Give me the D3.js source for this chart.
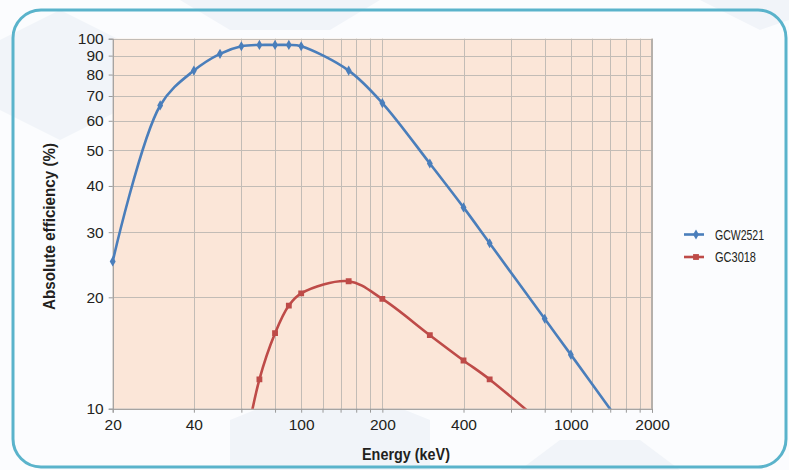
<!DOCTYPE html>
<html>
<head>
<meta charset="utf-8">
<script src="https://cdn.jsdelivr.net/npm/d3@7.9.0/dist/d3.min.js"></script>
<style>
  html, body { margin: 0; padding: 0; background: #fbfcfe; }
  svg { display: block; }
  text { font-family: "Liberation Sans", Arial, sans-serif; fill: #231f20; }
</style>
</head>
<body>
<svg id="chart" width="789" height="470"></svg>
<script>
// data
const energyBlue = [20, 30, 40, 50, 60, 70, 80, 90, 100, 150, 200, 300, 400, 500, 800, 1000, 1500];
const effBlue = [25, 66, 82, 91, 95.4, 96.2, 96.2, 96.2, 95.4, 82, 67, 46, 35, 28, 17.5, 14, 9.3];
const energyRed = [60, 70, 80, 90, 100, 150, 200, 300, 400, 500, 800];
const effRed = [7, 12, 16, 19, 20.5, 22.1, 19.8, 15.8, 13.5, 12, 9];

const xGrid = [20, 40, 60, 80, 100, 120, 140, 160, 180, 200, 400, 600, 800, 1000, 1200, 1400, 1600, 1800, 2000];
const xLabels = [20, 40, 100, 200, 400, 1000, 2000];
const yGrid = [10, 20, 30, 40, 50, 60, 70, 80, 90, 100];

const series = [
  { name: 'GCW2521', color: '#4a7ebb', marker: 'diamond', x: energyBlue, y: effBlue, w: 49 },
  { name: 'GC3018', color: '#be4b48', marker: 'square', x: energyRed, y: effRed, w: 41 }
];

const svg = d3.select('#chart');

// background: faint hexagon shapes and the rounded frame
const bg = svg.append('g');
bg.append('rect').attr('width', 789).attr('height', 470).attr('fill', '#fbfcfe');
const hexes = [
  [[0, 40], [60, 10], [120, 40], [120, 110], [60, 140], [0, 110]],
  [[230, 420], [330, 380], [430, 420], [430, 470], [230, 470]],
  [[520, 470], [560, 440], [640, 440], [680, 470]],
  [[180, 0], [230, 30], [330, 30], [380, 0]],
  [[700, 0], [760, 30], [789, 20], [789, 0]]
];
hexes.forEach(p => {
  bg.append('polygon').attr('points', p.map(d => d.join(',')).join(' ')).attr('fill', '#f1f4f9');
});
svg.append('rect')
  .attr('x', 13).attr('y', 10).attr('width', 773).attr('height', 457)
  .attr('rx', 28).attr('ry', 28)
  .attr('fill', 'none').attr('stroke', '#5ab3cb').attr('stroke-width', 3);

const x = d3.scaleLog().domain([20, 2000]).range([112.7, 652]);
const y = d3.scaleLog().domain([10, 100]).range([408.7, 38.7]);

// plot area
svg.append('rect')
  .attr('x', x(20)).attr('y', y(100))
  .attr('width', x(2000) - x(20)).attr('height', y(10) - y(100))
  .attr('fill', '#fbe6d8');

const grid = svg.append('g').attr('stroke', '#c2bcb6').attr('stroke-width', 1);
grid.selectAll('line.v').data(xGrid).join('line')
  .attr('x1', d => Math.round(x(d)) + 0.5).attr('x2', d => Math.round(x(d)) + 0.5)
  .attr('y1', y(100)).attr('y2', y(10));
grid.selectAll('line.h').data(yGrid).join('line')
  .attr('y1', d => Math.round(y(d)) + 0.5).attr('y2', d => Math.round(y(d)) + 0.5)
  .attr('x1', x(20)).attr('x2', x(2000));

// right border of plot area
svg.append('line')
  .attr('x1', x(2000)).attr('x2', x(2000)).attr('y1', y(100)).attr('y2', y(10))
  .attr('stroke', '#b5b0ab').attr('stroke-width', 2);

// axes
const xAxis = d3.axisBottom(x).tickValues(xGrid).tickSize(4).tickPadding(3)
  .tickFormat(d => xLabels.includes(d) ? d : '');
const yAxis = d3.axisLeft(y).tickValues(yGrid).tickSize(4).tickPadding(5).tickFormat(d => d);

const gx = svg.append('g').attr('transform', `translate(0,${y(10)})`).call(xAxis);
const gy = svg.append('g').attr('transform', `translate(${x(20)},0)`).call(yAxis);
[gx, gy].forEach(g => {
  g.select('.domain').attr('stroke', '#9a9a9a');
  g.selectAll('.tick line').attr('stroke', '#9a9a9a');
  g.selectAll('.tick text').attr('font-size', 15.5).attr('fill', '#231f20')
    .attr('font-family', '"Liberation Sans", Arial, sans-serif');
});
gx.selectAll('.tick text').attr('dy', '0.95em');

// series
svg.append('clipPath').attr('id', 'plotClip')
  .append('rect').attr('x', x(20) - 6).attr('y', y(100) - 6)
  .attr('width', x(2000) - x(20) + 12).attr('height', y(10) - y(100) + 6);
svg.append('clipPath').attr('id', 'lineClip')
  .append('rect').attr('x', x(20) - 6).attr('y', y(100) - 6)
  .attr('width', x(2000) - x(20) + 6).attr('height', y(10) - y(100) + 6);

const line = d3.line().curve(d3.curveCatmullRom.alpha(0.5)).x(d => x(d[0])).y(d => y(d[1]));
const diamond = d3.symbol().type(d3.symbolDiamond).size(30);
const square = d3.symbol().type(d3.symbolSquare).size(34);

series.forEach(s => {
  const pts = s.x.map((e, i) => [e, s.y[i]]);
  svg.append('path').datum(pts)
    .attr('clip-path', 'url(#lineClip)')
    .attr('d', line).attr('fill', 'none')
    .attr('stroke', s.color).attr('stroke-width', 2.6);
  svg.append('g').attr('clip-path', 'url(#plotClip)')
    .selectAll('path').data(pts.filter(d => d[1] >= 10 && d[0] <= 2000)).join('path')
    .attr('d', s.marker === 'diamond' ? diamond : square)
    .attr('transform', d => `translate(${x(d[0])},${y(d[1])})`)
    .attr('fill', s.color);
});

// legend
const legend = svg.append('g');
series.forEach((s, i) => {
  const ly = 234.5 + i * 22.5;
  legend.append('line').attr('x1', 684).attr('x2', 704).attr('y1', ly).attr('y2', ly)
    .attr('stroke', s.color).attr('stroke-width', 2.6);
  legend.append('path').attr('d', s.marker === 'diamond' ? diamond : square)
    .attr('transform', `translate(696,${ly})`).attr('fill', s.color);
  legend.append('text').attr('x', 715).attr('y', ly).attr('dy', '0.36em')
    .attr('font-size', 14).attr('textLength', s.w).attr('lengthAdjust', 'spacingAndGlyphs')
    .text(s.name);
});

// axis titles (condensed look via textLength)
svg.append('text')
  .attr('x', 362).attr('y', 460)
  .attr('font-size', 17).attr('font-weight', 'bold')
  .attr('textLength', 88).attr('lengthAdjust', 'spacingAndGlyphs')
  .text('Energy (keV)');
svg.append('text')
  .attr('transform', 'translate(55,310) rotate(-90)')
  .attr('font-size', 17).attr('font-weight', 'bold')
  .attr('textLength', 167).attr('lengthAdjust', 'spacingAndGlyphs')
  .text('Absolute efficiency (%)');
</script>
</body>
</html>
